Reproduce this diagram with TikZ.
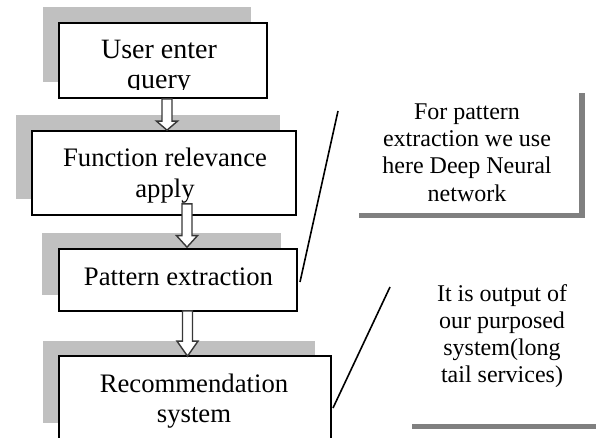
\documentclass[tikz,border=0pt]{standalone}
\usepackage{fontspec}
\setmainfont{Liberation Serif}
\usetikzlibrary{calc}
\definecolor{shlight}{RGB}{192,192,192}
\definecolor{shdark}{RGB}{128,128,128}
\definecolor{arrline}{RGB}{55,55,55}
\newcommand\hollowarr[3]{%
  \draw[hollow] let \p1=(#1), \p2=(#2) in
   (\x2-5pt,\y1) -- (\x2-5pt,\y2+#3) -- (\x2-10.5pt,\y2+#3) -- (\x2,\y2)
   -- (\x2+10.5pt,\y2+#3) -- (\x2+5pt,\y2+#3) -- (\x2+5pt,\y1) -- cycle;}
\begin{document}
\begin{tikzpicture}[x=1pt,y=-1pt,
  stepbox/.style={draw=black, line width=1.7pt, fill=white, inner sep=0pt},
  maintext/.style={font=\fontsize{26.7}{30.5}\selectfont, align=center, inner sep=0pt},
  notetext/.style={font=\fontsize{24}{27.2}\selectfont, align=center, inner sep=0pt},
  notebox/.style={fill=white, draw=none, inner sep=0pt},
  hollow/.style={draw=arrline, line width=1.4pt, fill=white, line join=miter},
  leader/.style={draw=black, line width=1.6pt}]
\useasboundingbox (0,0) rectangle (596,438);
\clip (0,0) rectangle (596,438);
% shadows of the step boxes
\fill[shlight] (43,7) rectangle (251,82);
\fill[shlight] (16,115) rectangle (280,199);
\fill[shlight] (42,233) rectangle (281,295);
\fill[shlight] (43,341) rectangle (315,423);
% step boxes
\node[stepbox, minimum width=208pt, minimum height=75pt] (b1) at (163,60.5) {};
\node[stepbox, minimum width=264pt, minimum height=84pt] (b2) at (164,173) {};
\node[stepbox, minimum width=238pt, minimum height=62pt] (b3) at (178,280) {};
\node[stepbox, minimum width=272pt, minimum height=110pt] (b4) at (195,411) {};
% texts
\begin{scope}
\clip (59,23) rectangle (267,90);
\node[maintext, font=\fontsize{28}{29.8}\selectfont] (t1) at (159,67) {User enter\\query};
\end{scope}
\node[maintext] (t2) at (165,175.5) {Function relevance\\apply};
\node[maintext, anchor=base] (t3) at (178.5,285) {Pattern extraction};
\node[maintext] (t4) at (194,401) {Recommendation\\system};
% callouts
\fill[shdark] (359,93) rectangle (585,218);
\node[notebox, minimum width=225pt, minimum height=125pt] (c1) at (466.5,150.5) {};
\node[notetext] (n1) at (467,152.5) {For pattern\\extraction we use\\here Deep Neural\\network};
\fill[shdark] (412,285) rectangle (620,429);
\node[notebox, minimum width=208pt, minimum height=144pt] (c2) at (511,352) {};
\node[notetext] (n2) at (502,336) {It is output of\\our purposed\\system(long\\tail services)};
% arrows
\coordinate (a1s) at ($(b1.south)+(4,0)$);
\coordinate (a1e) at ($(b2.north)+(3,0)$);
\coordinate (a2s) at ($(b2.south)+(23,-12)$);
\coordinate (a2e) at ($(b3.north)+(9,-1)$);
\coordinate (a3s) at ($(b3.south)+(9.5,-1)$);
\coordinate (a3e) at ($(b4.north)+(-7.5,1)$);
\hollowarr{a1s}{a1e}{9pt}
\hollowarr{a2s}{a2e}{11.5pt}
\hollowarr{a3s}{a3e}{15pt}
% leader lines
\coordinate (l1a) at (338,111);
\coordinate (l1b) at (300,282);
\coordinate (l2a) at (390,287);
\coordinate (l2b) at (333,408);
\draw[leader] (l1a) -- (l1b);
\draw[leader] (l2a) -- (l2b);
\end{tikzpicture}
\end{document}
